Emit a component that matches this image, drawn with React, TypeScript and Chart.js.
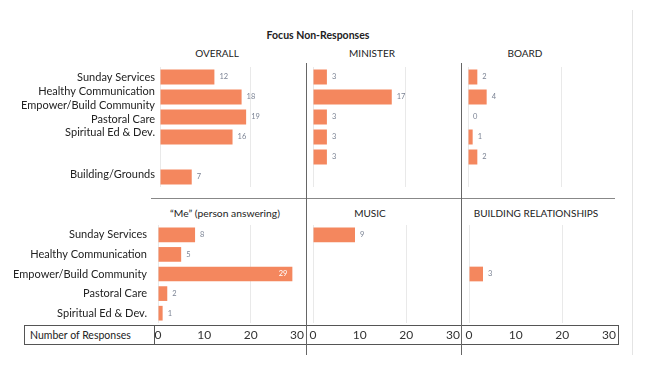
import React, { useEffect, useRef } from 'react';
import { Chart, registerables } from 'chart.js';

Chart.register(...registerables);

// ---- data ----
const topCategories = [
  'Sunday Services',
  'Healthy Communication',
  'Empower/Build Community',
  'Pastoral Care',
  'Spiritual Ed & Dev.',
  'Building/Grounds',
];
const overallValues = [12, 18, 19, 16, null, 7];
const ministerValues = [3, 17, 3, 3, 3, null];
const boardValues = [2, 4, 0, 1, 2, null];

const bottomCategories = [
  'Sunday Services',
  'Healthy Communication',
  'Empower/Build Community',
  'Pastoral Care',
  'Spiritual Ed & Dev.',
];
const meValues = [8, 5, 29, 2, 1];
const musicValues = [9, null, null, null, null];
const relationshipsValues = [null, null, 3, null, null];

const xTicks = [0, 10, 20, 30];
const gridTicks = [0, 20];
// where the top-left labels sit, in row units (they are offset in the original)
const topLabelRows = [0, 0.7, 1.4, 2.1, 2.75, 4.85];

// ---- styles ----
const FONT = 'Lato, "Open Sans", sans-serif';
const BAR = '#F4875E';
const TEXT = '#222';
const VALUE = '#7b8394';

const valueLabels = {
  id: 'valueLabels',
  afterDatasetsDraw(chart: any) {
    const ctx = chart.ctx;
    const meta = chart.getDatasetMeta(0);
    const data = chart.data.datasets[0].data;
    ctx.save();
    ctx.font = `7.5px ${FONT}`;
    ctx.textBaseline = 'middle';
    meta.data.forEach((el: any, i: number) => {
      const v = data[i];
      if (v == null) return;
      const { x, y } = el.getProps(['x', 'y'], true);
      if (v >= 25) {
        ctx.fillStyle = '#fff';
        ctx.textAlign = 'right';
        ctx.fillText(String(v), x - 5, y);
      } else {
        ctx.fillStyle = VALUE;
        ctx.textAlign = 'left';
        ctx.fillText(String(v), x + 5, y);
      }
    });
    ctx.restore();
  },
};

const noPad = (s: any) => {
  s.paddingTop = 0;
  s.paddingBottom = 0;
  s.paddingLeft = 0;
  s.paddingRight = 0;
};

type PanelProps = {
  left: number;
  top: number;
  width: number;
  height: number;
  categories: string[];
  values: (number | null)[];
  labels: 'none' | 'aligned' | 'offset';
  labelWidth?: number;
  labelPadding?: number;
  showX: boolean;
  xHeight: number;
  padding: { left: number; right: number; top: number; bottom: number };
};

function Panel(p: PanelProps) {
  const ref = useRef<HTMLCanvasElement | null>(null);
  useEffect(() => {
    if (!ref.current) return;
    const scales: any = {
      x: {
        type: 'linear',
        min: 0,
        max: 30,
        afterBuildTicks: (s: any) => {
          s.ticks = xTicks.map((v) => ({ value: v }));
        },
        ticks: {
          display: p.showX,
          padding: 5,
          color: '#333',
          font: { family: FONT, size: 12 },
        },
        grid: {
          drawTicks: false,
          color: (c: any) =>
            c.tick && gridTicks.includes(c.tick.value) ? '#e9e9e9' : 'rgba(0,0,0,0)',
        },
        border: { display: false },
        afterFit: (s: any) => {
          s.height = p.xHeight;
          noPad(s);
        },
      },
      y: {
        type: 'category',
        display: p.labels === 'aligned',
        ticks: {
          padding: p.labelPadding ?? 8,
          color: TEXT,
          autoSkip: false,
          font: { family: FONT, size: 11 },
        },
        grid: { display: false, drawTicks: false },
        border: { display: false },
        afterFit: (s: any) => {
          s.width = p.labels === 'aligned' ? p.labelWidth ?? 0 : 0;
          noPad(s);
        },
      },
    };
    if (p.labels === 'offset') {
      scales.y2 = {
        type: 'linear',
        axis: 'y',
        position: 'left',
        offset: false,
        min: -0.5,
        max: p.categories.length - 0.5,
        reverse: true,
        afterBuildTicks: (s: any) => {
          s.ticks = topLabelRows.map((v) => ({ value: v }));
        },
        ticks: {
          autoSkip: false,
          padding: p.labelPadding ?? 5,
          color: TEXT,
          font: { family: FONT, size: 11 },
          callback: (_v: any, i: number) => p.categories[i],
        },
        grid: { display: false, drawTicks: false },
        border: { display: false },
        afterFit: (s: any) => {
          s.width = p.labelWidth ?? 0;
          noPad(s);
        },
      };
    }
    const chart = new Chart(ref.current, {
      type: 'bar',
      data: {
        labels: p.categories,
        datasets: [
          {
            data: p.values as any,
            xAxisID: 'x',
            yAxisID: 'y',
            backgroundColor: BAR,
            borderWidth: 0,
            categoryPercentage: 1,
            barPercentage: 0.75,
          },
        ],
      },
      options: {
        indexAxis: 'y',
        responsive: false,
        animation: false,
        layout: { padding: p.padding },
        plugins: {
          legend: { display: false },
          tooltip: { enabled: false },
          title: { display: false },
        },
        scales,
      } as any,
      plugins: [valueLabels as any],
    });
    return () => chart.destroy();
  }, []);
  return (
    <canvas
      ref={ref}
      width={p.width}
      height={p.height}
      style={{
        position: 'absolute',
        left: p.left,
        top: p.top,
        width: p.width,
        height: p.height,
      }}
    />
  );
}

const textBase: React.CSSProperties = {
  position: 'absolute',
  fontFamily: FONT,
  color: TEXT,
  whiteSpace: 'nowrap',
  lineHeight: '14px',
};

function Title(props: { x: number; y: number; text: string; bold?: boolean; size?: number }) {
  return (
    <div
      style={{
        ...textBase,
        left: props.x,
        top: props.y - 7,
        transform: 'translateX(-50%)',
        fontSize: props.size ?? 10,
        fontWeight: props.bold ? 700 : 400,
      }}
    >
      {props.text}
    </div>
  );
}

function Line(props: { x: number; y: number; w: number; h: number; c: string }) {
  return (
    <div
      style={{
        position: 'absolute',
        left: props.x,
        top: props.y,
        width: props.w,
        height: props.h,
        background: props.c,
      }}
    />
  );
}

export default function App() {
  return (
    <div
      style={{
        position: 'fixed',
        left: 0,
        top: 0,
        width: 650,
        height: 366,
        background: '#fff',
        overflow: 'hidden',
      }}
    >
      <Line x={632} y={10} w={1} h={345} c="#e4e4e4" />
      <Title x={318} y={35} text="Focus Non-Responses" bold size={10.5} />

      <Title x={217} y={53} text="OVERALL" />
      <Title x={372} y={53} text="MINISTER" />
      <Title x={525} y={53} text="BOARD" />
      <Title x={225} y={213} text="“Me” (person answering)" size={10.3} />
      <Title x={370} y={213} text="MUSIC" />
      <Title x={536} y={213} text="BUILDING RELATIONSHIPS" />

      {/* axis box */}
      <div
        style={{
          position: 'absolute',
          left: 24,
          top: 325,
          width: 593,
          height: 18,
          border: '1px solid #555',
        }}
      />
      <Line x={154} y={325} w={1} h={20} c="#555" />
      <div style={{ ...textBase, left: 30, top: 328, fontSize: 10.5 }}>Number of Responses</div>

      {/* dividers */}
      <Line x={151} y={198} w={464} h={1} c="#888" />
      <Line x={306} y={63} w={1} h={292} c="#666" />
      <Line x={461} y={63} w={1} h={292} c="#666" />

      <Panel
        left={0}
        top={62}
        width={310}
        height={130}
        categories={topCategories}
        values={overallValues}
        labels="offset"
        labelWidth={160}
        labelPadding={5}
        showX={false}
        xHeight={0}
        padding={{ left: 0, right: 14, top: 5, bottom: 5 }}
      />
      <Panel
        left={306}
        top={62}
        width={160}
        height={130}
        categories={topCategories}
        values={ministerValues}
        labels="none"
        showX={false}
        xHeight={0}
        padding={{ left: 7, right: 14, top: 5, bottom: 5 }}
      />
      <Panel
        left={461}
        top={62}
        width={160}
        height={130}
        categories={topCategories}
        values={boardValues}
        labels="none"
        showX={false}
        xHeight={0}
        padding={{ left: 7, right: 13, top: 5, bottom: 5 }}
      />

      <Panel
        left={0}
        top={218}
        width={310}
        height={132}
        categories={bottomCategories}
        values={meValues}
        labels="aligned"
        labelWidth={158}
        labelPadding={11}
        showX={true}
        xHeight={27}
        padding={{ left: 0, right: 13, top: 7, bottom: 0 }}
      />
      <Panel
        left={306}
        top={218}
        width={160}
        height={132}
        categories={bottomCategories}
        values={musicValues}
        labels="none"
        showX={true}
        xHeight={27}
        padding={{ left: 7, right: 13, top: 7, bottom: 0 }}
      />
      <Panel
        left={461}
        top={218}
        width={160}
        height={132}
        categories={bottomCategories}
        values={relationshipsValues}
        labels="none"
        showX={true}
        xHeight={27}
        padding={{ left: 8, right: 12, top: 7, bottom: 0 }}
      />
    </div>
  );
}
